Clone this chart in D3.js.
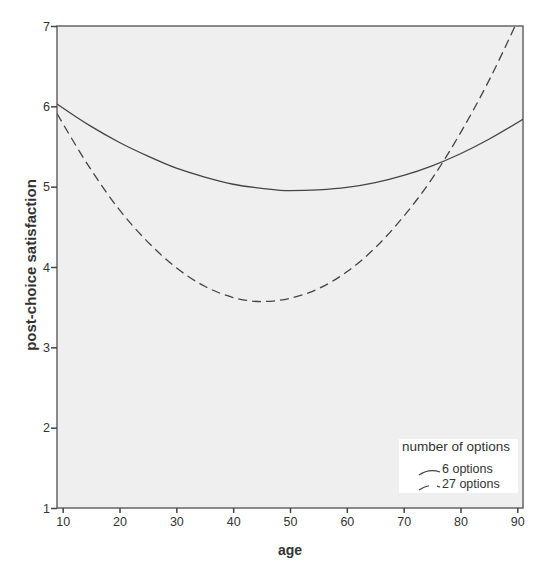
<!DOCTYPE html>
<html>
<head>
<meta charset="utf-8">
<script src="https://cdn.jsdelivr.net/npm/d3@7"></script>
<style>
  body { margin: 0; background: #fff; }
  text { font-family: "Liberation Sans", Arial, sans-serif; fill: #333; }
</style>
</head>
<body>
<div id="chart"></div>
<script>
// values
const ages = [9, 15, 20, 25, 30, 35, 40, 45, 50, 55, 60, 65, 70, 75, 80, 85, 91];
const sixOptions = [6.03, 5.75, 5.55, 5.38, 5.23, 5.12, 5.03, 4.98, 4.95, 4.96, 4.99, 5.05, 5.14, 5.26, 5.41, 5.59, 5.84];
const agesDashed = [9, 15, 20, 25, 30, 35, 40, 45, 50, 55, 60, 65, 70, 75, 80, 85, 90];
const twentySevenOptions = [5.91, 5.21, 4.71, 4.31, 3.99, 3.76, 3.62, 3.57, 3.61, 3.73, 3.94, 4.24, 4.63, 5.10, 5.67, 6.32, 7.06];
const xTicks = [10, 20, 30, 40, 50, 60, 70, 80, 90];
const yTicks = [1, 2, 3, 4, 5, 6, 7];
const seriesNames = ["6 options", "27 options"];

const width = 550;
const height = 572;
const margin = { top: 26, right: 27, bottom: 64, left: 57 };

const svg = d3.select("#chart").append("svg")
	.attr("width", width)
	.attr("height", height);

const x = d3.scaleLinear().domain([9, 91]).range([margin.left, width - margin.right]);
const y = d3.scaleLinear().domain([1, 7]).range([height - margin.bottom, margin.top]);

svg.append("clipPath").attr("id", "plotClip")
	.append("rect")
	.attr("x", margin.left).attr("y", margin.top)
	.attr("width", width - margin.left - margin.right)
	.attr("height", height - margin.top - margin.bottom);

// plot background and frame
svg.append("rect")
	.attr("x", margin.left).attr("y", margin.top)
	.attr("width", width - margin.left - margin.right)
	.attr("height", height - margin.top - margin.bottom)
	.attr("fill", "#efefef")
	.attr("stroke", "#666")
	.attr("stroke-width", 1.5);

const line = d3.line()
	.x((d) => x(d[0]))
	.y((d) => y(d[1]))
	.curve(d3.curveMonotoneX);

const plot = svg.append("g").attr("clip-path", "url(#plotClip)");
plot.append("path")
	.datum(ages.map((a, i) => [a, sixOptions[i]]))
	.attr("d", line)
	.attr("fill", "none")
	.attr("stroke", "#444")
	.attr("stroke-width", 1.3);
plot.append("path")
	.datum(agesDashed.map((a, i) => [a, twentySevenOptions[i]]))
	.attr("d", line)
	.attr("fill", "none")
	.attr("stroke", "#444")
	.attr("stroke-width", 1.3)
	.attr("stroke-dasharray", "9,5");

// axes
const xAxis = svg.append("g")
	.attr("transform", `translate(0, ${height - margin.bottom})`)
	.call(d3.axisBottom(x).tickValues(xTicks).tickSize(5).tickPadding(4).tickFormat(d3.format("d")));
const yAxis = svg.append("g")
	.attr("transform", `translate(${margin.left}, 0)`)
	.call(d3.axisLeft(y).tickValues(yTicks).tickSize(6).tickPadding(1).tickFormat(d3.format("d")));
[xAxis, yAxis].forEach((g) => {
	g.select(".domain").remove();
	g.selectAll("line").attr("stroke", "#444").attr("stroke-width", 1.5);
	g.selectAll("text")
		.style("font-family", "'Liberation Sans', Arial, sans-serif")
		.style("font-size", "12.5px")
		.attr("fill", "#333");
});

svg.append("text")
	.attr("x", x(50))
	.attr("y", 555)
	.attr("text-anchor", "middle")
	.style("font-size", "14px")
	.style("font-weight", "bold")
	.attr("fill", "#222")
	.text("age");

svg.append("text")
	.attr("transform", `translate(36, ${y(4) - 2}) rotate(-90)`)
	.attr("text-anchor", "middle")
	.style("font-size", "15px")
	.style("font-weight", "bold")
	.attr("fill", "#222")
	.text("post-choice satisfaction");

// legend
const legend = svg.append("g").attr("transform", "translate(399, 439)");
legend.append("rect")
	.attr("width", 119).attr("height", 54)
	.attr("fill", "#fff");
legend.append("text")
	.attr("x", 3).attr("y", 12)
	.style("font-size", "13.5px")
	.text("number of options");
seriesNames.forEach((name, i) => {
	const row = legend.append("g").attr("transform", `translate(0, ${34 + i * 15})`);
	row.append("path")
		.attr("d", "M20,2 Q30,-5 41,-1")
		.attr("fill", "none")
		.attr("stroke", "#444")
		.attr("stroke-width", 1.2)
		.attr("stroke-dasharray", i === 1 ? "11,8" : null);
	row.append("text")
		.attr("x", 43).attr("y", 0)
		.style("font-size", "12.5px")
		.text(name);
});
</script>
</body>
</html>
